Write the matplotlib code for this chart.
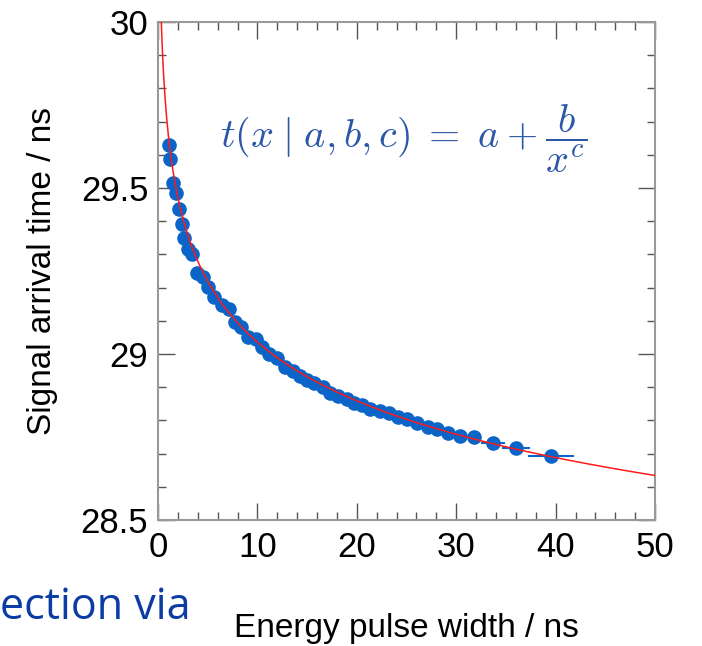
import numpy as np
import matplotlib
matplotlib.use('Agg')
from matplotlib import pyplot as plt
from matplotlib.ticker import MultipleLocator

plt.rcParams['font.family'] = ['Liberation Sans', 'DejaVu Sans']
plt.rcParams['mathtext.fontset'] = 'cm'

#%% Data
pulse_width = [1.11, 1.21, 1.51, 1.81, 2.11, 2.41, 2.62, 3.02, 3.42, 3.92,
               4.53, 5.03, 5.63, 6.44, 7.14, 7.75, 8.35, 9.05, 9.86, 10.46,
               11.17, 11.97, 12.78, 13.58, 14.29, 14.99, 15.69, 16.60, 17.30, 18.11,
               19.01, 19.72, 20.52, 21.33, 22.33, 23.24, 24.14, 25.05, 26.06, 27.16,
               28.07, 29.18, 30.38, 31.79, 33.70, 36.02, 39.54]
arrival_time = [29.630, 29.587, 29.515, 29.485, 29.437, 29.392, 29.349, 29.316, 29.301, 29.244,
                29.232, 29.202, 29.172, 29.148, 29.136, 29.096, 29.081, 29.051, 29.045, 29.021,
                29.000, 28.988, 28.961, 28.949, 28.934, 28.922, 28.913, 28.901, 28.883, 28.873,
                28.864, 28.852, 28.846, 28.834, 28.828, 28.822, 28.810, 28.804, 28.792, 28.780,
                28.774, 28.762, 28.753, 28.750, 28.732, 28.717, 28.693]
width_err = [0.05, 0.05, 0.05, 0.05, 0.05, 0.05, 0.05, 0.05, 0.05, 0.05,
             0.1, 0.1, 0.1, 0.1, 0.1, 0.1, 0.1, 0.1, 0.1, 0.1,
             0.15, 0.15, 0.15, 0.15, 0.15, 0.2, 0.2, 0.2, 0.2, 0.2,
             0.25, 0.25, 0.25, 0.3, 0.3, 0.3, 0.35, 0.35, 0.4, 0.4,
             0.45, 0.5, 0.55, 0.7, 1.2, 1.4, 2.3]

# fit parameters of t(x|a,b,c) = a + b/x^c
fit_a, fit_b, fit_c = 23.84, 5.83, 0.05

#%% Plot
fig = plt.figure(figsize=(7.02, 6.46), dpi=100)
ax = fig.add_axes([0.2251, 0.1950, 0.7080, 0.7709])

blue = '#0b64c8'
xf = np.linspace(0.2, 50, 600)
ax.plot(xf, fit_a + fit_b / xf**fit_c, color='#ff1a1a', lw=1.1, zorder=3)
ax.errorbar(pulse_width, arrival_time, xerr=width_err, fmt='o', color=blue,
            ms=9.5, mec=blue, elinewidth=1.5, capsize=0, zorder=2)

ax.set_xlim(0, 50)
ax.set_ylim(28.5, 30)
ax.xaxis.set_major_locator(MultipleLocator(10))
ax.xaxis.set_minor_locator(MultipleLocator(2))
ax.yaxis.set_minor_locator(MultipleLocator(0.1))
ax.set_yticks([28.5, 29, 29.5, 30])
ax.set_yticklabels(['28.5', '29', '29.5', '30'])

ax.tick_params(which='both', direction='in', top=True, right=True,
               color='#555555', labelsize=25, width=1)
ax.tick_params(which='major', length=12)
ax.tick_params(which='minor', length=6)
ax.tick_params(axis='x', pad=8)
ax.tick_params(axis='y', pad=7)
for sp in ax.spines.values():
    sp.set_color('#999999')
    sp.set_linewidth(1.5)

ax.set_xlabel('Energy pulse width / ns', fontsize=24, labelpad=35)
ax.set_ylabel('Signal arrival time / ns', fontsize=24, labelpad=16)

ax.text(0.865, 0.765, r'$t(x\;|\;a,b,c)\;=\;a\:+\:\dfrac{b}{x^c}$', transform=ax.transAxes,
        ha='right', va='center', fontsize=29, color='#2b57a8')

fig.text(0.0, 0.042, 'ection via', fontsize=31, color='#0b3ca3',
         family=['Open Sans', 'DejaVu Sans'], ha='left', va='baseline')

fig.savefig('out.png', dpi=100)
